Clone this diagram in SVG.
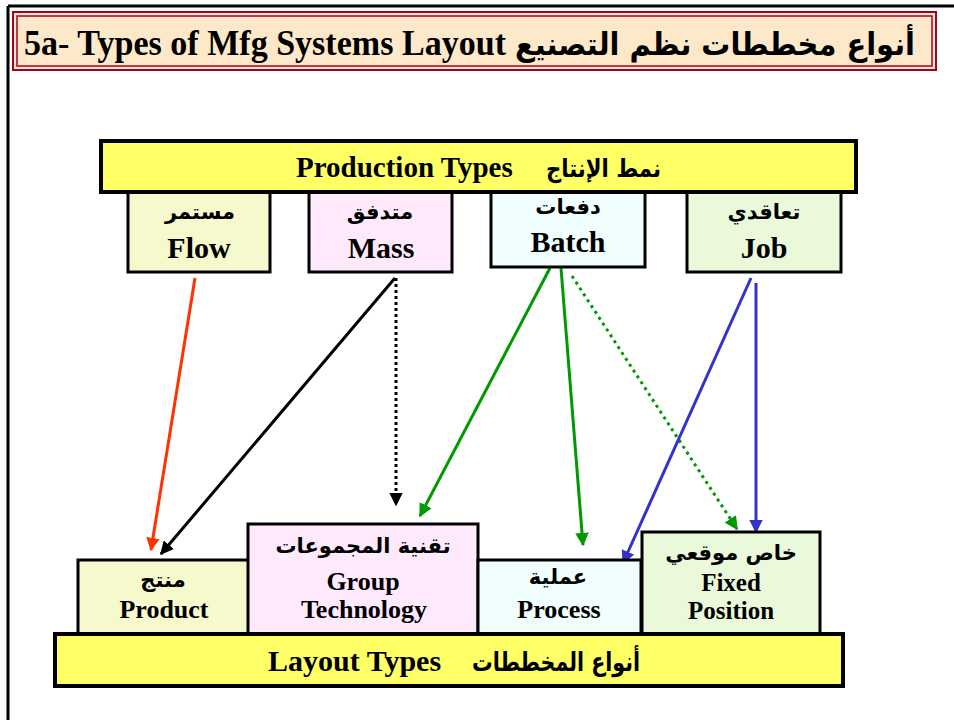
<svg xmlns="http://www.w3.org/2000/svg" width="954" height="720" viewBox="0 0 954 720">
<defs>
<style>
.en{font-family:"Liberation Serif","DejaVu Sans",serif;font-weight:bold;fill:#000}
.ar{font-family:"DejaVu Sans","Noto Sans",sans-serif;font-weight:bold;fill:#000}
.box{stroke:#000;stroke-width:3}
.bar{fill:#FFFF66;stroke:#000;stroke-width:4}
.c1{fill:#F6F9CC}.c2{fill:#FEE9FD}.c3{fill:#F0FEFE}.c4{fill:#E9F9D9}
.ln{fill:none;stroke-width:3}
</style>
<marker id="mR" viewBox="0 0 10 10" refX="9" refY="5" markerWidth="4.5" markerHeight="4.5" orient="auto" markerUnits="strokeWidth"><path d="M0,0 L10,5 L0,10 z" fill="#FF3300"/></marker>
<marker id="mK" viewBox="0 0 10 10" refX="9" refY="5" markerWidth="4.5" markerHeight="4.5" orient="auto" markerUnits="strokeWidth"><path d="M0,0 L10,5 L0,10 z" fill="#000"/></marker>
<marker id="mG" viewBox="0 0 10 10" refX="9" refY="5" markerWidth="4.5" markerHeight="4.5" orient="auto" markerUnits="strokeWidth"><path d="M0,0 L10,5 L0,10 z" fill="#009900"/></marker>
<marker id="mB" viewBox="0 0 10 10" refX="9" refY="5" markerWidth="4.5" markerHeight="4.5" orient="auto" markerUnits="strokeWidth"><path d="M0,0 L10,5 L0,10 z" fill="#3333CC"/></marker>
</defs>
<rect width="954" height="720" fill="#fff"/>
<g id="frame">
<line x1="8" y1="6" x2="954" y2="6" stroke="#000" stroke-width="3"/>
<line x1="8" y1="6" x2="8" y2="720" stroke="#000" stroke-width="3"/>
</g>
<g id="title">
<rect x="13" y="12" width="923" height="58" fill="#FDE9C9" stroke="#A50021" stroke-width="2"/>
<rect x="17" y="16" width="915" height="50" fill="none" stroke="#A50021" stroke-width="1.5"/>
<text class="en" x="24" y="55" font-size="36" textLength="482" lengthAdjust="spacingAndGlyphs">5a- Types of Mfg Systems Layout</text>
<text class="ar" x="915" y="55" font-size="31" text-anchor="end" textLength="400" lengthAdjust="spacingAndGlyphs">أنواع مخططات نظم التصنيع</text>
</g>
<g id="connectors">
<line class="ln" x1="195" y1="278" x2="151" y2="550" stroke="#FF3300" marker-end="url(#mR)"/>
<line class="ln" x1="395" y1="278" x2="161" y2="554" stroke="#000" marker-end="url(#mK)"/>
<line class="ln" x1="396" y1="278" x2="396" y2="505" stroke="#000" stroke-dasharray="3,3" marker-end="url(#mK)"/>
<line class="ln" x1="550" y1="268" x2="420" y2="516" stroke="#009900" marker-end="url(#mG)"/>
<line class="ln" x1="561" y1="268" x2="583" y2="545" stroke="#009900" marker-end="url(#mG)"/>
<line class="ln" x1="572" y1="276" x2="737" y2="529" stroke="#009900" stroke-dasharray="3,4" marker-end="url(#mG)"/>
<line class="ln" x1="751" y1="278" x2="623" y2="563" stroke="#3333CC" marker-end="url(#mB)"/>
<line class="ln" x1="756" y1="283" x2="756" y2="532" stroke="#3333CC" marker-end="url(#mB)"/>
</g>
<g id="flow">
<rect class="box c1" x="128" y="188" width="142" height="84"/>
<text class="ar" x="200" y="219" font-size="21" text-anchor="middle">مستمر</text>
<text class="en" x="199" y="258" font-size="30" text-anchor="middle">Flow</text>
</g>
<g id="mass">
<rect class="box c2" x="309" y="188" width="143" height="84"/>
<text class="ar" x="380" y="219" font-size="21" text-anchor="middle">متدفق</text>
<text class="en" x="381" y="258" font-size="30" text-anchor="middle">Mass</text>
</g>
<g id="batch">
<rect class="box c3" x="491" y="188" width="154" height="79"/>
<text class="ar" x="568" y="214" font-size="21" text-anchor="middle">دفعات</text>
<text class="en" x="568" y="252" font-size="30" text-anchor="middle">Batch</text>
</g>
<g id="job">
<rect class="box c4" x="687" y="188" width="154" height="84"/>
<text class="ar" x="764" y="219" font-size="21" text-anchor="middle">تعاقدي</text>
<text class="en" x="764" y="258" font-size="30" text-anchor="middle">Job</text>
</g>
<g id="production-types">
<rect class="bar" x="101" y="141" width="755" height="51"/>
<text class="en" x="296" y="177" font-size="29">Production Types</text>
<text class="ar" x="661" y="177" font-size="25" text-anchor="end" textLength="115" lengthAdjust="spacingAndGlyphs">نمط الإنتاج</text>
</g>
<g id="product">
<rect class="box c1" x="78" y="560" width="172" height="76"/>
<text class="ar" x="163" y="587" font-size="21" text-anchor="middle">منتج</text>
<text class="en" x="164" y="618" font-size="26" text-anchor="middle">Product</text>
</g>
<g id="group-technology">
<rect class="box c2" x="248" y="524" width="230" height="112"/>
<text class="ar" x="363" y="553" font-size="21" text-anchor="middle">تقنية المجموعات</text>
<text class="en" x="363" y="590" font-size="26" text-anchor="middle">Group</text>
<text class="en" x="364" y="618" font-size="26" text-anchor="middle">Technology</text>
</g>
<g id="process">
<rect class="box c3" x="478" y="560" width="163" height="76"/>
<text class="ar" x="558" y="584" font-size="21" text-anchor="middle">عملية</text>
<text class="en" x="559" y="618" font-size="26" text-anchor="middle">Process</text>
</g>
<g id="fixed-position">
<rect class="box c4" x="642" y="532" width="178" height="102" stroke-width="4"/>
<text class="ar" x="731" y="560" font-size="21" text-anchor="middle">خاص موقعي</text>
<text class="en" x="731" y="591" font-size="25" text-anchor="middle">Fixed</text>
<text class="en" x="731" y="619" font-size="25" text-anchor="middle">Position</text>
</g>
<g id="layout-types">
<rect class="bar" x="55" y="634" width="788" height="52"/>
<text class="en" x="268" y="671" font-size="30">Layout Types</text>
<text class="ar" x="640" y="671" font-size="26" text-anchor="end" textLength="168" lengthAdjust="spacingAndGlyphs">أنواع المخططات</text>
</g>
</svg>
